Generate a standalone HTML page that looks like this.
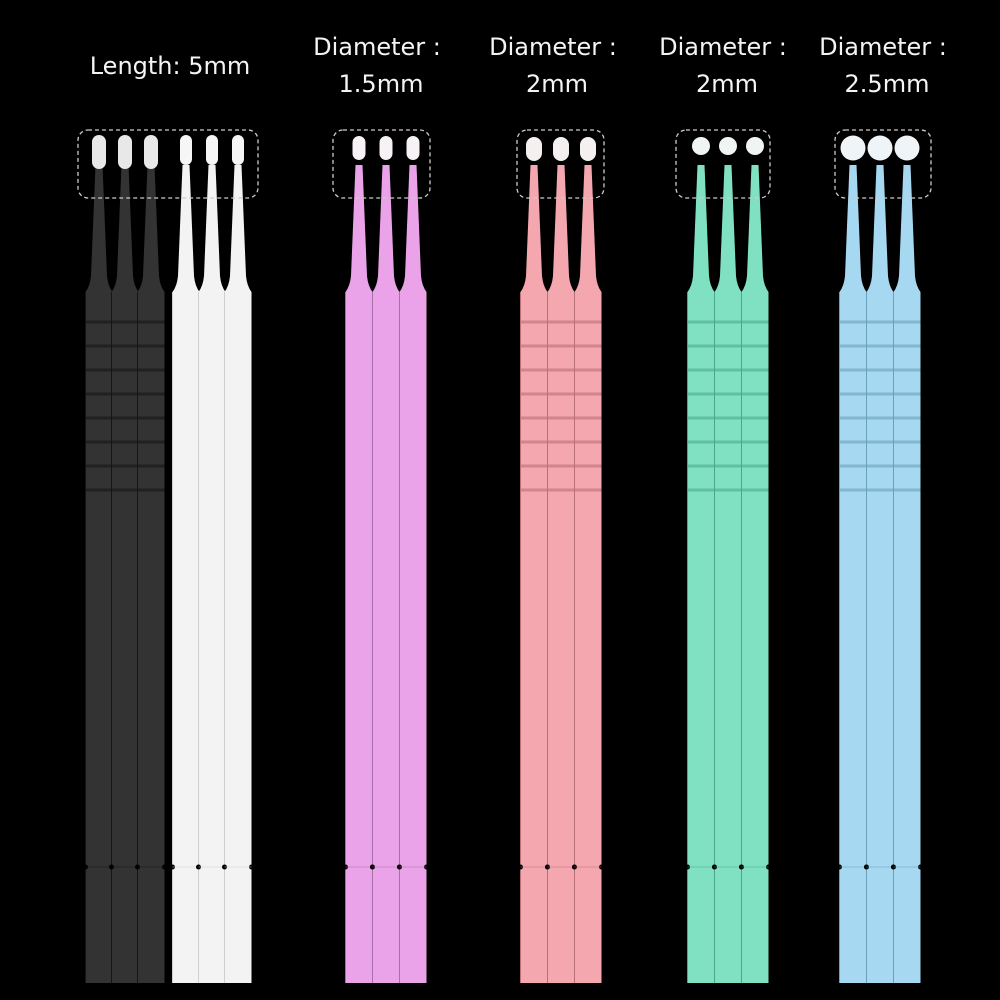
<!DOCTYPE html>
<html><head><meta charset="utf-8"><style>
html,body{margin:0;padding:0;background:#000;width:1000px;height:1000px;overflow:hidden}
svg{display:block}
text{font-family:"DejaVu Sans","Liberation Sans",sans-serif;font-size:24px;fill:#f4f4f4;text-anchor:middle}
</style></head><body>
<svg id="s" width="1000" height="1000" viewBox="0 0 1000 1000">
<rect width="1000" height="1000" fill="#000"/>
<text x="170" y="74">Length: 5mm</text>
<text x="377" y="55">Diameter :</text><text x="381" y="92">1.5mm</text>
<text x="553" y="55">Diameter :</text><text x="557" y="92">2mm</text>
<text x="723" y="55">Diameter :</text><text x="727" y="92">2mm</text>
<text x="883" y="55">Diameter :</text><text x="887" y="92">2.5mm</text>
<g id="g"></g>
</svg>
<script>
var g=document.getElementById('g'),h='';
function stick(cx,col,dark,head,hcol,rings){
  var w=13.5;
  // handle
  h+='<path d="M'+(cx-w)+' 983 L'+(cx-w)+' 292 Q'+(cx-9)+' 286 '+(cx-8)+' 276 L'+(cx-3.5)+' 165 L'+(cx+3.5)+' 165 L'+(cx+8)+' 276 Q'+(cx+9)+' 286 '+(cx+w)+' 292 L'+(cx+w)+' 983 Z" fill="'+col+'"/>';
  h+='<line x1="'+(cx-w)+'" y1="292" x2="'+(cx-w)+'" y2="983" stroke="'+dark+'" stroke-width="1"/>';
  if(rings){for(var y=322;y<=490;y+=24)h+='<rect x="'+(cx-w)+'" y="'+(y-1.5)+'" width="'+(2*w)+'" height="3" fill="'+dark+'" opacity="0.6"/>';}
  h+='<circle cx="'+(cx-w)+'" cy="867" r="2.5" fill="#000"/><circle cx="'+(cx+w)+'" cy="867" r="2.5" fill="#000"/>';
  h+='<line x1="'+(cx-w)+'" y1="867" x2="'+(cx+w)+'" y2="867" stroke="'+dark+'" stroke-width="1" opacity="0.5"/>';
  // head
  if(head[0]=='r') h+='<circle cx="'+cx+'" cy="'+head[2]+'" r="'+head[1]+'" fill="'+hcol+'"/>';
  else h+='<rect x="'+(cx-head[1]/2)+'" y="'+head[3]+'" width="'+head[1]+'" height="'+head[2]+'" rx="'+(head[1]/2)+'" fill="'+hcol+'"/>';
}
function box(x1,x2){h+='<rect x="'+x1+'" y="130" width="'+(x2-x1)+'" height="68" rx="10" fill="none" stroke="#ccc" stroke-width="1.3" stroke-dasharray="4 3"/>';}
[99,125,151].forEach(function(c){stick(c,'#333','#151515',['o',14,34,135],'#e8e8e8',true)});
[186,212,238].forEach(function(c){stick(c,'#f3f3f3','#cfcfcf',['o',12,30,135],'#f6f6f6',false)});
box(78,258);
[359,386,413].forEach(function(c){stick(c,'#eaa3e8','#a870a8',['o',13,24,136],'#f6f2f6',false)});
box(333,430);
[534,561,588].forEach(function(c){stick(c,'#f5a7b0','#b87078',['o',16,24,137],'#f5f0f0',true)});
box(517,604);
[701,728,755].forEach(function(c){stick(c,'#80e1c2','#4aa88a',['r',9,146],'#f0f5f4',true)});
box(676,770);
[853,880,907].forEach(function(c){stick(c,'#a6d9f1','#6aa0bb',['r',12.5,148],'#eef4f8',true)});
box(835,931);
g.innerHTML=h;
</script>
</body></html>
